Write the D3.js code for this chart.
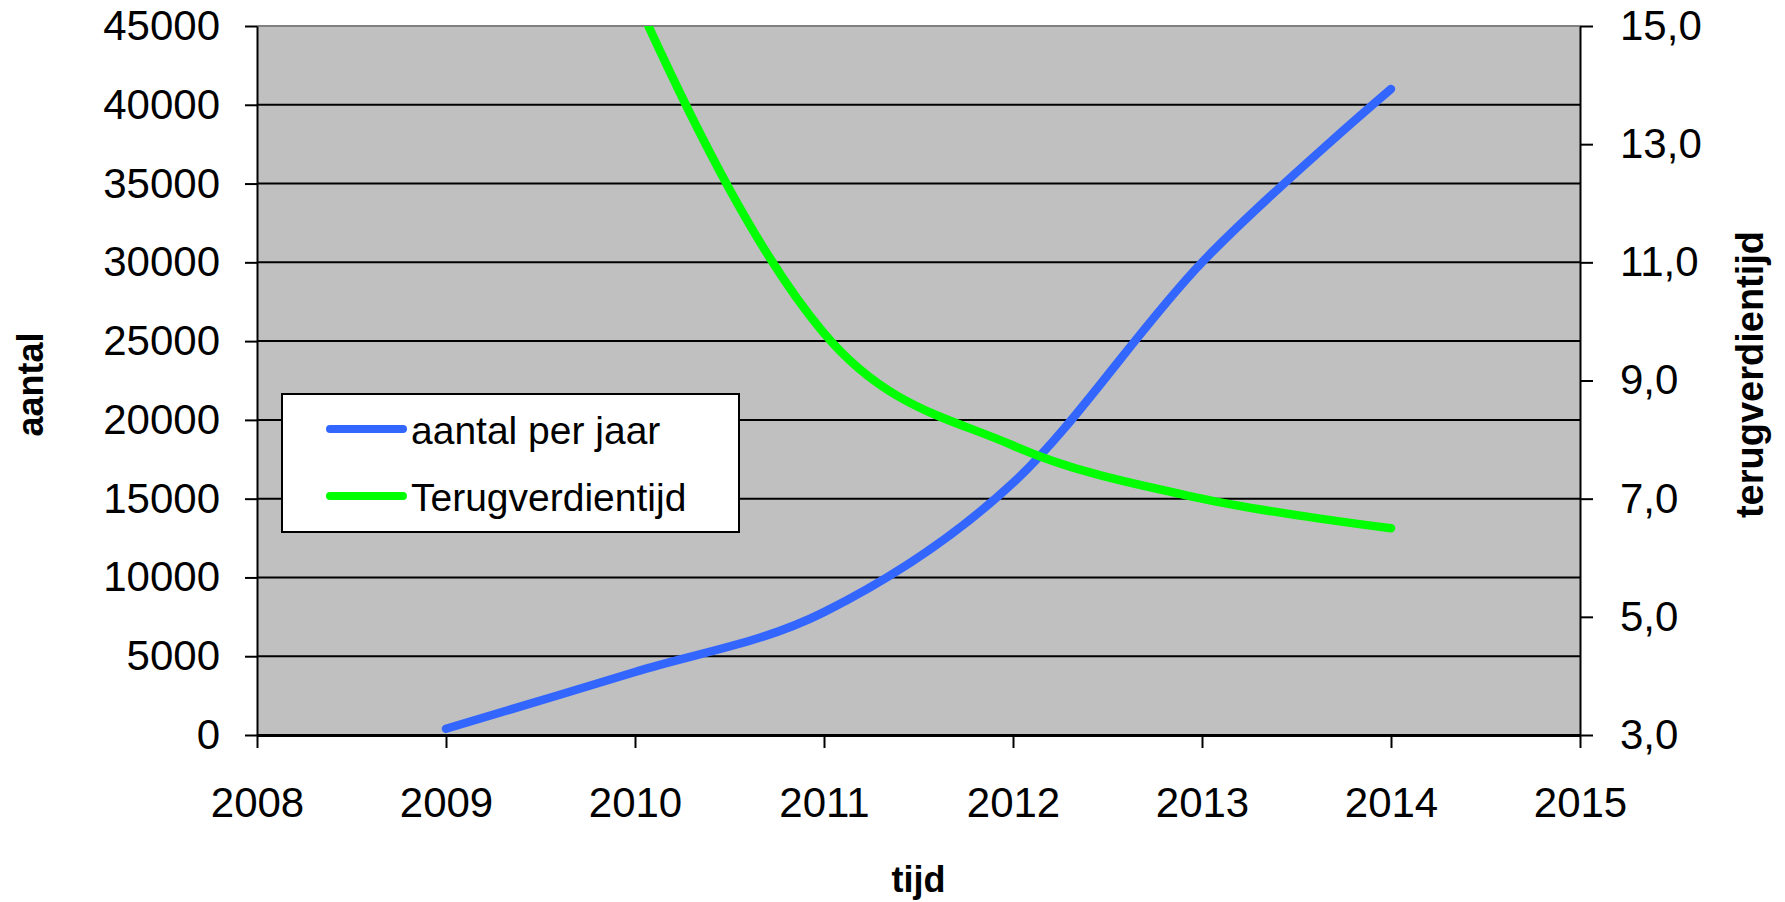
<!DOCTYPE html>
<html>
<head>
<meta charset="utf-8">
<script src="https://cdn.jsdelivr.net/npm/d3@7"></script>
<style>
  body { margin: 0; background: #fff; }
  svg { display: block; font-family: "Liberation Sans", Arial, sans-serif; }
  .axis path, .axis line { stroke: #000; }
  .axis text { font-size: 42px; fill: #000; }
</style>
</head>
<body>
<div id="chart"></div>
<script>
/* data */
var years = [2009, 2010, 2011, 2012, 2013, 2014];
var aantal = [400, 4000, 7800, 16000, 30000, 41000];
// 2009 and 2010 values are above the axis range (line is cut off at the top)
var terug = [24, 15.5, 9.8, 7.9, 7.0, 6.5];
var xTicks = [2008, 2009, 2010, 2011, 2012, 2013, 2014, 2015];
var yTicks = [0, 5000, 10000, 15000, 20000, 25000, 30000, 35000, 40000, 45000];
var y2Ticks = [3, 5, 7, 9, 11, 13, 15];
var seriesNames = ["aantal per jaar", "Terugverdientijd"];
var seriesColors = ["#3366FF", "#00FF00"];

var W = 1785, H = 902;
var margin = {top: 26, right: 205, bottom: 167, left: 257},
    width = W - margin.left - margin.right,
    height = H - margin.top - margin.bottom;

var svg = d3.select("#chart")
  .append("svg")
    .attr("width", W)
    .attr("height", H)
  .append("g")
    .attr("transform", "translate(" + margin.left + "," + margin.top + ")");

var x = d3.scaleLinear().domain([2008, 2015]).range([0, width]);
var y = d3.scaleLinear().domain([0, 45000]).range([height, 0]);
var y2 = d3.scaleLinear().domain([3, 15]).range([height, 0]);

// plot background
svg.append("rect")
  .attr("width", width)
  .attr("height", height)
  .attr("fill", "#C0C0C0");

// top border in gray
svg.append("line")
  .attr("x1", 0).attr("x2", width)
  .attr("y1", 0).attr("y2", 0)
  .attr("stroke", "#808080")
  .attr("stroke-width", 2);

// horizontal gridlines
svg.append("g")
  .selectAll("line")
  .data(yTicks.filter(function(d) { return d > 0 && d < 45000; }))
  .enter()
  .append("line")
    .attr("x1", 0).attr("x2", width)
    .attr("y1", function(d) { return y(d); })
    .attr("y2", function(d) { return y(d); })
    .attr("stroke", "#000")
    .attr("stroke-width", 2);

// left axis
var yAxis = svg.append("g")
  .attr("class", "axis")
  .call(d3.axisLeft(y).tickValues(yTicks).tickSize(12).tickPadding(25).tickSizeOuter(0)
    .tickFormat(d3.format("d")));
yAxis.selectAll("path, line").attr("stroke-width", 2);

// right axis
var y2Axis = svg.append("g")
  .attr("class", "axis")
  .attr("transform", "translate(" + width + ",0)")
  .call(d3.axisRight(y2).tickValues(y2Ticks).tickSize(13).tickPadding(27).tickSizeOuter(0)
    .tickFormat(function(d) { return d.toFixed(1).replace(".", ","); }));
y2Axis.selectAll("path, line").attr("stroke-width", 2);

// bottom axis
var xAxis = svg.append("g")
  .attr("class", "axis")
  .attr("transform", "translate(0," + height + ")")
  .call(d3.axisBottom(x).tickValues(xTicks).tickSize(13).tickSizeOuter(0)
    .tickFormat(d3.format("d")));
xAxis.select("path").attr("stroke-width", 3);
xAxis.selectAll("line").attr("stroke-width", 2);
xAxis.selectAll("text").attr("dy", null).attr("y", 82);

// clip for the lines
svg.append("clipPath")
  .attr("id", "plotClip")
  .append("rect")
    .attr("width", width)
    .attr("height", height);

var line1 = d3.line()
  .x(function(d, i) { return x(years[i]); })
  .y(function(d) { return y(d); })
  .curve(d3.curveCardinal.tension(0));

var line2 = d3.line()
  .x(function(d, i) { return x(years[i]); })
  .y(function(d) { return y2(d); })
  .curve(d3.curveCardinal.tension(0));

var lines = svg.append("g").attr("clip-path", "url(#plotClip)");

lines.append("path")
  .datum(aantal)
  .attr("d", line1)
  .attr("fill", "none")
  .attr("stroke", seriesColors[0])
  .attr("stroke-width", 8.5)
  .attr("stroke-linecap", "round")
  .attr("stroke-linejoin", "round");

lines.append("path")
  .datum(terug)
  .attr("d", line2)
  .attr("fill", "none")
  .attr("stroke", seriesColors[1])
  .attr("stroke-width", 8.5)
  .attr("stroke-linecap", "round")
  .attr("stroke-linejoin", "round");

// legend
var legend = svg.append("g")
  .attr("transform", "translate(" + (282 - margin.left) + "," + (394 - margin.top) + ")");

legend.append("rect")
  .attr("width", 457)
  .attr("height", 138)
  .attr("fill", "#fff")
  .attr("stroke", "#000")
  .attr("stroke-width", 2);

var items = legend.selectAll("g.item")
  .data(seriesNames)
  .enter()
  .append("g")
    .attr("class", "item")
    .attr("transform", function(d, i) { return "translate(0," + (35 + i * 67) + ")"; });

items.append("line")
  .attr("x1", 48).attr("x2", 121)
  .attr("y1", 0).attr("y2", 0)
  .attr("stroke", function(d, i) { return seriesColors[i]; })
  .attr("stroke-width", 8)
  .attr("stroke-linecap", "round");

items.append("text")
  .attr("x", 129)
  .attr("y", 15)
  .style("font-size", "39px")
  .text(function(d) { return d; });

// axis titles
svg.append("text")
  .attr("transform", "translate(" + (43 - margin.left) + "," + (height / 2 + 4) + ") rotate(-90)")
  .attr("text-anchor", "middle")
  .style("font-size", "36px")
  .style("font-weight", "bold")
  .text("aantal");

svg.append("text")
  .attr("transform", "translate(" + (1763 - margin.left) + "," + (height / 2 - 6) + ") rotate(-90)")
  .attr("text-anchor", "middle")
  .style("font-size", "38px")
  .style("font-weight", "bold")
  .text("terugverdientijd");

svg.append("text")
  .attr("x", width / 2)
  .attr("y", 892 - margin.top)
  .attr("text-anchor", "middle")
  .style("font-size", "36px")
  .style("font-weight", "bold")
  .text("tijd");
</script>
</body>
</html>
